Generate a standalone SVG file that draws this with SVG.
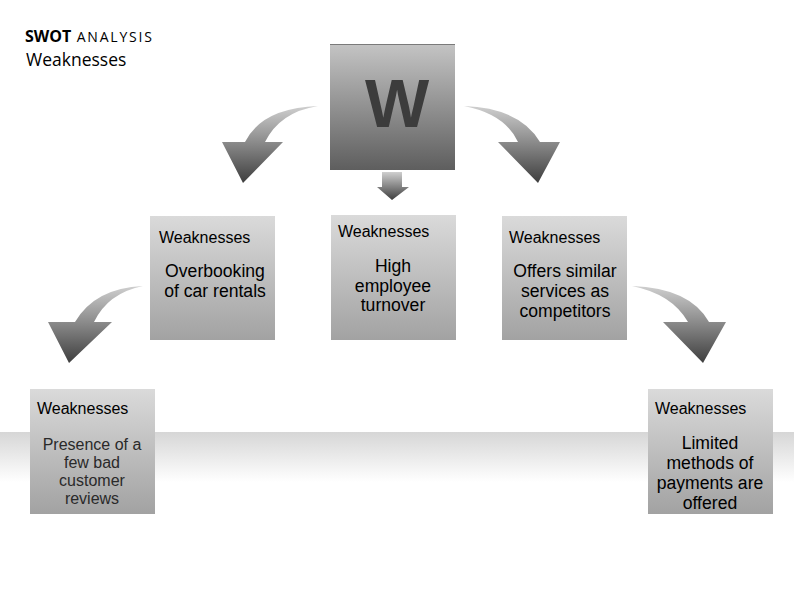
<svg xmlns="http://www.w3.org/2000/svg" width="794" height="595" viewBox="0 0 794 595">
<defs>
<linearGradient id="band" x1="0" y1="0" x2="0" y2="1"><stop offset="0" stop-color="#d6d6d6"/><stop offset="1" stop-color="#ffffff"/></linearGradient>
<linearGradient id="wbox" x1="0" y1="0" x2="0" y2="1"><stop offset="0" stop-color="#c4c4c4"/><stop offset="1" stop-color="#5e5e5e"/></linearGradient>
<linearGradient id="box" x1="0" y1="0" x2="0" y2="1"><stop offset="0" stop-color="#dadada"/><stop offset="1" stop-color="#a2a2a2"/></linearGradient>
<linearGradient id="arr" x1="0" y1="0" x2="0" y2="1"><stop offset="0" stop-color="#cfcfcf"/><stop offset="1" stop-color="#3e3e3e"/></linearGradient>
</defs>
<style>
.t{font-family:"Liberation Sans",Arial,sans-serif;fill:#000}
.h{font-size:16px}
.b{font-size:17.6px;text-anchor:middle}
.s{font-size:16px;fill:#2a2a2a}
.a{fill:url(#arr)}
</style>
<rect x="0" y="432" width="794" height="50" fill="url(#band)"/>
<g id="title">
<text x="25" y="42" font-family="'Open Sans','Liberation Sans',sans-serif" font-size="16"><tspan font-weight="bold">SWOT</tspan><tspan font-size="14" letter-spacing="1.8"> ANALYSIS</tspan></text>
<text x="26" y="66" font-family="'Open Sans','Liberation Sans',sans-serif" font-size="17.5">Weaknesses</text>
</g>
<g id="connectors">
<path class="a" d="M318,106 Q262,108 245,142 L222,142 L243,183 L283,142 L265,142 Q280,112 318,106 Z"/>
<path class="a" d="M464,106 Q520,108 540,142 L560,142 L538,183 L498,142 L518,142 Q505,114 464,106 Z"/>
<path class="a" d="M382,172 L402,172 L402,187 L409,187 L392,200 L377,187 L382,187 Z"/>
<path class="a" d="M143,286 Q95,288 75,322 L48,322 L69,363 L112,322 L94,322 Q108,293 143,286 Z"/>
<path class="a" d="M632,286 Q690,288 709,322 L726,322 L703,363 L663,322 L688,322 Q672,294 632,286 Z"/>
</g>
<g id="w">
<rect x="330" y="44" width="125" height="126" fill="url(#wbox)"/>
<line x1="330" y1="44.5" x2="455" y2="44.5" stroke="#7a7a7a" stroke-width="1"/>
<text x="397" y="127" text-anchor="middle" font-family="'Liberation Sans',Arial,sans-serif" font-weight="bold" font-size="68" fill="#3c3c3c">W</text>
</g>
<g id="n1">
<rect x="150" y="216" width="125" height="124" fill="url(#box)"/>
<text class="t h" x="159" y="243">Weaknesses</text>
<text class="t b" x="215" y="277">Overbooking</text>
<text class="t b" x="215" y="297">of car rentals</text>
</g>
<g id="n2">
<rect x="331" y="215" width="125" height="125" fill="url(#box)"/>
<text class="t h" x="338" y="237">Weaknesses</text>
<text class="t b" x="393" y="272">High</text>
<text class="t b" x="393" y="292">employee</text>
<text class="t b" x="393" y="311">turnover</text>
</g>
<g id="n3">
<rect x="502" y="216" width="125" height="124" fill="url(#box)"/>
<text class="t h" x="509" y="243">Weaknesses</text>
<text class="t b" x="565" y="277">Offers similar</text>
<text class="t b" x="565" y="297">services as</text>
<text class="t b" x="565" y="317">competitors</text>
</g>
<g id="n4">
<rect x="30" y="389" width="125" height="125" fill="url(#box)"/>
<text class="t h" x="37" y="414">Weaknesses</text>
<text class="t b s" x="92" y="450">Presence of a</text>
<text class="t b s" x="92" y="468">few bad</text>
<text class="t b s" x="92" y="486">customer</text>
<text class="t b s" x="92" y="504">reviews</text>
</g>
<g id="n5">
<rect x="648" y="389" width="125" height="125" fill="url(#box)"/>
<text class="t h" x="655" y="414">Weaknesses</text>
<text class="t b" x="710" y="449">Limited</text>
<text class="t b" x="710" y="469">methods of</text>
<text class="t b" x="710" y="489">payments are</text>
<text class="t b" x="710" y="509">offered</text>
</g>
</svg>
